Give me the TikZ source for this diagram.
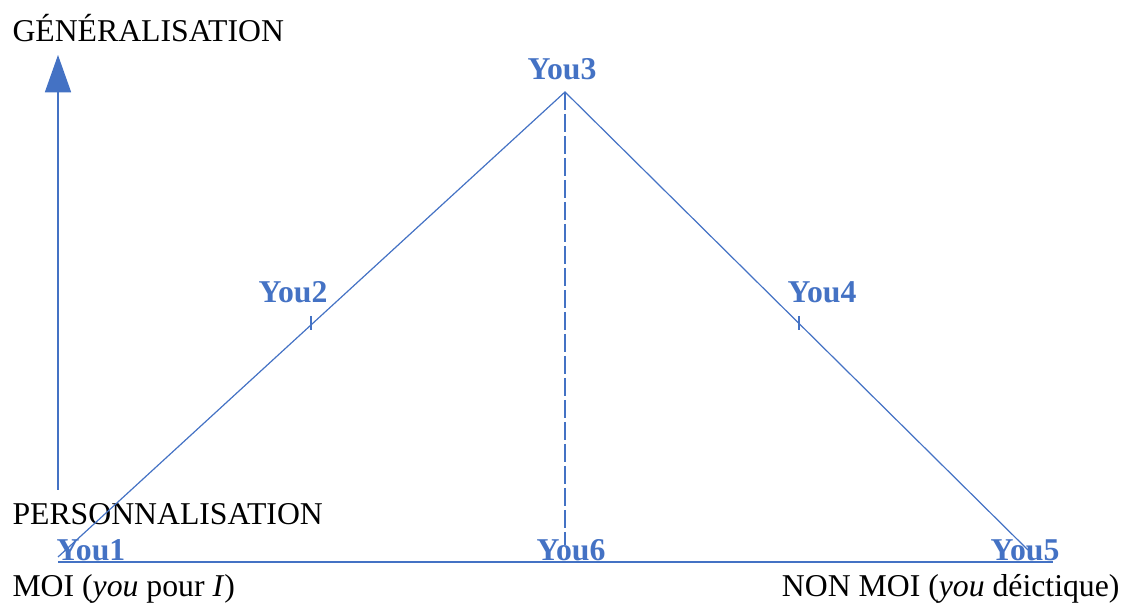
\documentclass[tikz,border=0pt]{standalone}
\usepackage{fontspec}
\setmainfont{Liberation Serif}
\usepackage{tikz}
\usetikzlibrary{arrows.meta}

\definecolor{youblue}{HTML}{4472C4}

\begin{document}
\begin{tikzpicture}[x=0.375pt, y=-0.375pt,
    txt/.style={font=\fontsize{11.9}{14}\selectfont, inner sep=0pt},
    you/.style={txt, text=youblue, font=\fontsize{11.9}{14}\selectfont\bfseries},
    ligne/.style={youblue, line width=0.45pt}]

    % cadre de l'image
    \useasboundingbox (0,0) rectangle (1123,604);

    % ================= axe vertical =================
    \coordinate (P) at (58,490);
    \coordinate (G) at (58,55);
    \draw[ligne, -{Triangle[width=9.8pt, length=14pt]}] (P) -- (G);

    \node[txt, anchor=base west] (gen) at (12,42) {GÉNÉRALISATION};
    \node[txt, anchor=base west] (pers) at (12,525) {PERSONNALISATION};

    % ================= triangle =================
    \coordinate (A) at (58,557);
    \coordinate (T) at (565,92);
    \coordinate (B) at (1028,550);
    \coordinate (O) at (58,562);
    \coordinate (E) at (1053,562);
    \coordinate (M) at (565,545);

    \draw[ligne] (A) -- (T) -- (B);
    \draw[ligne] (O) -- (E);
    \draw[ligne, dash pattern=on 6.75pt off 1.5pt] (T) -- (M);

    % petits traits sur les côtés
    \coordinate (K2) at (311,323);
    \coordinate (K4) at (799,323);
    \draw[ligne] (K2) ++(0,-7) -- ++(0,14);
    \draw[ligne] (K4) ++(0,-7) -- ++(0,14);

    % ================= étiquettes =================
    \node[you, anchor=base] (you3) at (562,80) {You3};
    \node[you, anchor=base] (you2) at (293,303) {You2};
    \node[you, anchor=base] (you4) at (822,303) {You4};
    \node[you, anchor=base west] (you1) at (56,561) {You1};
    \node[you, anchor=base] (you6) at (571,561) {You6};
    \node[you, anchor=base] (you5) at (1025,561) {You5};

    % bas de l'axe
    \node[txt, anchor=base west] (moi) at (12,597) {MOI (\textit{you} pour \textit{I})};
    \node[txt, anchor=base east] (nonmoi) at (1120,597) {NON MOI (\textit{you} déictique)};

\end{tikzpicture}
\end{document}
